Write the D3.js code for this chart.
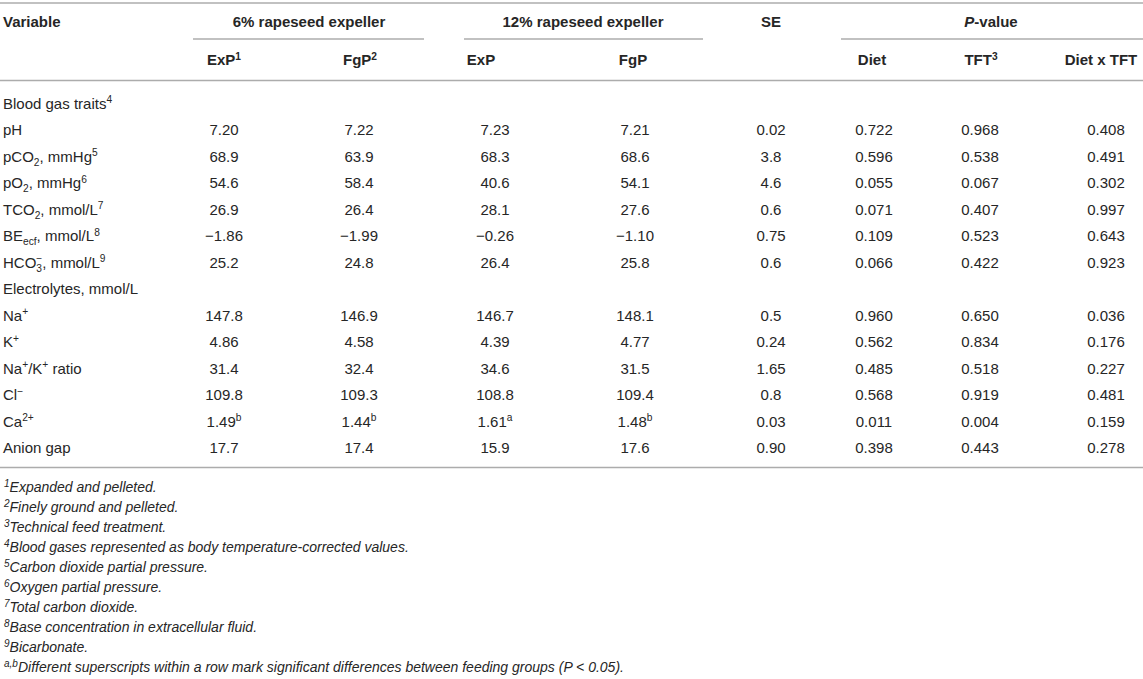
<!DOCTYPE html>
<html>
<head>
<meta charset="utf-8">
<script src="https://cdn.jsdelivr.net/npm/d3@7"></script>
<style>
    body { margin: 0; background: #fff; }
    svg text { font-family: "Liberation Sans", Arial, Helvetica, sans-serif; fill: #262626; }
</style>
</head>
<body>
<svg id="table" width="1143" height="679"></svg>
<script>
// ^{..} superscript, _{..} subscript, *{..} italic, ~{sub|sup} stacked
const variables = [
    "Blood gas traits^{4}", "pH", "pCO_{2}, mmHg^{5}", "pO_{2}, mmHg^{6}", "TCO_{2}, mmol/L^{7}",
    "BE_{ecf}, mmol/L^{8}", "HCO~{3|−}, mmol/L^{9}", "Electrolytes, mmol/L",
    "Na^{+}", "K^{+}", "Na^{+}/K^{+} ratio", "Cl^{−}", "Ca^{2+}", "Anion gap"
];
const exp6  = [null, "7.20", "68.9", "54.6", "26.9", "−1.86", "25.2", null, "147.8", "4.86", "31.4", "109.8", "1.49^{b}", "17.7"];
const fgp6  = [null, "7.22", "63.9", "58.4", "26.4", "−1.99", "24.8", null, "146.9", "4.58", "32.4", "109.3", "1.44^{b}", "17.4"];
const exp12 = [null, "7.23", "68.3", "40.6", "28.1", "−0.26", "26.4", null, "146.7", "4.39", "34.6", "108.8", "1.61^{a}", "15.9"];
const fgp12 = [null, "7.21", "68.6", "54.1", "27.6", "−1.10", "25.8", null, "148.1", "4.77", "31.5", "109.4", "1.48^{b}", "17.6"];
const se    = [null, "0.02", "3.8", "4.6", "0.6", "0.75", "0.6", null, "0.5", "0.24", "1.65", "0.8", "0.03", "0.90"];
const pDiet = [null, "0.722", "0.596", "0.055", "0.071", "0.109", "0.066", null, "0.960", "0.562", "0.485", "0.568", "0.011", "0.398"];
const pTft  = [null, "0.968", "0.538", "0.067", "0.407", "0.523", "0.422", null, "0.650", "0.834", "0.518", "0.919", "0.004", "0.443"];
const pInt  = [null, "0.408", "0.491", "0.302", "0.997", "0.643", "0.923", null, "0.036", "0.176", "0.227", "0.481", "0.159", "0.278"];

const columns = ["exp6", "fgp6", "exp12", "fgp12", "se", "diet", "tft", "int"];
const colHeaders = ["ExP^{1}", "FgP^{2}", "ExP", "FgP", "", "Diet", "TFT^{3}", "Diet x TFT"];
const groups = ["6% rapeseed expeller", "12% rapeseed expeller", "SE", "*{P}-value"];

const footnotes = [
    ["1", "Expanded and pelleted."],
    ["2", "Finely ground and pelleted."],
    ["3", "Technical feed treatment."],
    ["4", "Blood gases represented as body temperature-corrected values."],
    ["5", "Carbon dioxide partial pressure."],
    ["6", "Oxygen partial pressure."],
    ["7", "Total carbon dioxide."],
    ["8", "Base concentration in extracellular fluid."],
    ["9", "Bicarbonate."],
    ["a,b", "Different superscripts within a row mark significant differences between feeding groups (P < 0.05)."]
];

const valueCols = [exp6, fgp6, exp12, fgp12, se, pDiet, pTft, pInt];

const svg = d3.select("#table");
const W = 1143;
const FS = 15;
const mid = FS * 0.35; // baseline offset from row centre

const x = d3.scaleOrdinal().domain(columns).range([224, 359, 495, 635, 771, 874, 980, 1106]);
const xHead = d3.scaleOrdinal().domain(columns).range([224, 360, 481, 633, 771, 872, 981, 1101]);
const xGroup = d3.scaleOrdinal().domain(groups).range([309, 583, 771, 991]);
const y = d3.scalePoint().domain(d3.range(variables.length)).range([103.5, 448]);
const yNote = d3.scalePoint().domain(d3.range(footnotes.length)).range([487, 667]);

// writes a small markup string into a text element as tspans
function rich(textSel, str, size) {
    const re = /([\^_*~])\{([^}]*)\}|([^\^_*~]+)/g;
    let cur = 0;
    let m;
    const seg = (txt, off, fs, italic) => {
        const t = textSel.append("tspan").text(txt);
        if (off !== cur) t.attr("dy", off - cur);
        if (fs) t.style("font-size", fs + "px");
        if (italic) t.style("font-style", "italic");
        cur = off;
        return t;
    };
    while ((m = re.exec(str)) !== null) {
        if (m[3]) seg(m[3], 0);
        else if (m[1] === "^") seg(m[2], -0.38 * size, size * 0.68);
        else if (m[1] === "_") seg(m[2], 0.25 * size, size * 0.68);
        else if (m[1] === "*") seg(m[2], 0, null, true);
        else if (m[1] === "~") {
            const [sub, sup] = m[2].split("|");
            const s = seg(sub, 0.3 * size, size * 0.68);
            const w = s.node().getComputedTextLength();
            seg(sup, -0.38 * size, size * 0.68).attr("dx", -w);
        }
    }
}

// rules
const line = (x1, x2, yy) => svg.append("line")
    .attr("x1", x1).attr("x2", x2).attr("y1", yy).attr("y2", yy)
    .attr("stroke", "#acacac").attr("stroke-width", 1.6);
line(0, W, 3);
line(193, 424, 39);
line(464, 703, 39);
line(841, W, 39);
line(0, W, 80.5);
line(0, W, 467.5);

// header
svg.append("text").attr("x", 3).attr("y", 22 + mid)
    .style("font-size", FS + "px").style("font-weight", "bold").text("Variable");

svg.selectAll("text.group").data(groups).enter().append("text")
    .attr("class", "group")
    .attr("x", d => xGroup(d)).attr("y", 22 + mid)
    .attr("text-anchor", "middle")
    .style("font-size", FS + "px").style("font-weight", "bold")
    .each(function (d) { rich(d3.select(this), d, FS); });

svg.selectAll("text.colhead").data(columns.filter((c, i) => colHeaders[i] !== "")).enter().append("text")
    .attr("class", "colhead")
    .attr("x", d => xHead(d)).attr("y", 60 + mid)
    .attr("text-anchor", "middle")
    .style("font-size", FS + "px").style("font-weight", "bold")
    .each(function (d) { rich(d3.select(this), colHeaders[columns.indexOf(d)], FS); });

// row labels
svg.selectAll("text.rowlabel").data(variables).enter().append("text")
    .attr("class", "rowlabel")
    .attr("x", 3).attr("y", (d, i) => y(i) + mid)
    .style("font-size", FS + "px")
    .each(function (d) { rich(d3.select(this), d, FS); });

// cells
columns.forEach((col, ci) => {
    const cells = valueCols[ci].map((v, ri) => ({ v, ri })).filter(d => d.v !== null);
    svg.selectAll("text.c-" + col).data(cells).enter().append("text")
        .attr("class", "c-" + col)
        .attr("x", x(col)).attr("y", d => y(d.ri) + mid)
        .attr("text-anchor", "middle")
        .style("font-size", FS + "px")
        .each(function (d) { rich(d3.select(this), d.v, FS); });
});

// footnotes
const notes = svg.selectAll("text.note").data(footnotes).enter().append("text")
    .attr("class", "note")
    .attr("x", 4).attr("y", (d, i) => yNote(i) + 5)
    .style("font-size", "14px").style("font-style", "italic");
notes.append("tspan").text(d => d[0]).style("font-size", "10px").attr("dy", -5);
notes.append("tspan").text(d => d[1]).attr("dy", 5);
</script>
</body>
</html>
